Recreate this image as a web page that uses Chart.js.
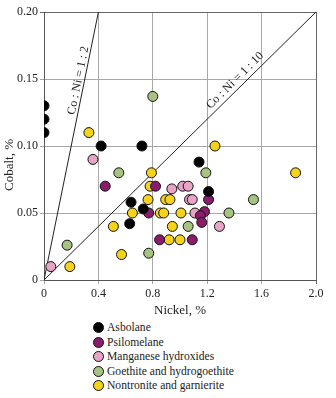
<!DOCTYPE html>
<html>
<head>
<meta charset="utf-8">
<script src="https://cdn.jsdelivr.net/npm/chart.js@4"></script>
<style>
  body { margin: 0; background: #fff; }
  #wrap { position: relative; width: 336px; height: 398px; }
  #legend { position: absolute; left: 93px; top: 0; font: 11.6px "Liberation Serif", serif; color: #222; }
  #legend div { position: absolute; left: 0; height: 14px; line-height: 14px; white-space: nowrap; }
  #legend span { display: inline-block; width: 11px; height: 11px; border-radius: 50%; border: 1px solid #111; box-sizing: border-box; vertical-align: -2px; margin-right: 3px; }
</style>
</head>
<body>
<div id="wrap">
  <canvas id="chart" width="336" height="318"></canvas>
  <div id="legend"></div>
</div>
<script>
// Nickel (x) and cobalt (y) contents, %, per mineral group
const asbolaneNi = [0, 0, 0, 0.42, 0.72, 0.64, 0.73, 0.63, 1.14, 1.21];
const asbolaneCo = [0.13, 0.12, 0.11, 0.10, 0.10, 0.058, 0.053, 0.042, 0.088, 0.066];

const psilomelaneNi = [0.45, 0.82, 0.77, 1.21, 1.18, 1.15, 1.16, 0.85, 1.09];
const psilomelaneCo = [0.070, 0.070, 0.050, 0.060, 0.051, 0.048, 0.043, 0.030, 0.030];

const mnHydroxNi = [0.05, 0.36, 0.94, 1.02, 1.06, 1.07, 1.09, 1.11, 1.29];
const mnHydroxCo = [0.010, 0.090, 0.068, 0.070, 0.070, 0.060, 0.060, 0.050, 0.040];

const goethiteNi = [0.17, 0.55, 0.80, 0.77, 1.19, 1.54, 1.36, 1.06];
const goethiteCo = [0.026, 0.080, 0.137, 0.020, 0.080, 0.060, 0.050, 0.040];

const nontroniteNi = [0.19, 0.33, 0.51, 0.57, 0.65, 0.765, 0.78, 0.79, 0.855, 0.88, 0.895, 0.926, 0.944, 0.92, 1.00, 1.007, 1.257, 1.85];
const nontroniteCo = [0.010, 0.110, 0.040, 0.019, 0.050, 0.060, 0.070, 0.080, 0.050, 0.050, 0.060, 0.060, 0.040, 0.030, 0.030, 0.050, 0.100, 0.080];

const seriesNames = ['Asbolane', 'Psilomelane', 'Manganese hydroxides', 'Goethite and hydrogoethite', 'Nontronite and garnierite'];
const seriesColors = ['#000000', '#8a1c6c', '#e7a4c6', '#a6c382', '#f6d31a'];

// Co : Ni ratio lines (end points)
const ratioLabels = ['Co : Ni = 1 : 2', 'Co : Ni = 1 : 10'];
const ratioEndNi = [0.4, 2.0];
const ratioEndCo = [0.2, 0.2];

const xTicks = [0, 0.4, 0.8, 1.2, 1.6, 2.0];
const yTicks = [0, 0.05, 0.10, 0.15, 0.20];

const serif = '"Liberation Serif", serif';

function pts(xs, ys) {
    return xs.map((x, i) => ({ x: x, y: ys[i] }));
}

const pointSets = [
    pts(asbolaneNi, asbolaneCo),
    pts(psilomelaneNi, psilomelaneCo),
    pts(mnHydroxNi, mnHydroxCo),
    pts(goethiteNi, goethiteCo),
    pts(nontroniteNi, nontroniteCo)
];

const datasets = pointSets.map((data, i) => ({
    type: 'scatter',
    label: seriesNames[i],
    data: data,
    backgroundColor: seriesColors[i],
    borderColor: '#111',
    borderWidth: 1,
    pointRadius: 5,
    order: 1
}));

ratioEndNi.forEach((x, i) => {
    datasets.push({
        type: 'line',
        label: ratioLabels[i],
        data: [{ x: 0, y: 0 }, { x: x, y: ratioEndCo[i] }],
        borderColor: '#222',
        borderWidth: 1,
        pointRadius: 0,
        fill: false,
        order: 10
    });
});

// label positions along each ratio line: fraction along, perpendicular offset
const labelPos = [[0.74, 6], [0.723, 8]];

const extras = {
    id: 'extras',
    afterDatasetsDraw(chart) {
        const ctx = chart.ctx;
        const xs = chart.scales.x, ys = chart.scales.y;
        ctx.save();
        ctx.fillStyle = '#222';
        ctx.font = '12px ' + serif;
        ctx.textAlign = 'center';
        ctx.textBaseline = 'middle';
        ratioEndNi.forEach((x, i) => {
            const x0 = xs.getPixelForValue(0), y0 = ys.getPixelForValue(0);
            const x1 = xs.getPixelForValue(x), y1 = ys.getPixelForValue(ratioEndCo[i]);
            const a = Math.atan2(y1 - y0, x1 - x0);
            const t = labelPos[i][0];
            ctx.save();
            ctx.translate(x0 + (x1 - x0) * t, y0 + (y1 - y0) * t);
            ctx.rotate(a);
            ctx.fillText(ratioLabels[i], 0, -labelPos[i][1]);
            ctx.restore();
        });
        // y axis title
        ctx.save();
        ctx.font = '13px ' + serif;
        ctx.translate(10, 165);
        ctx.rotate(-Math.PI / 2);
        ctx.fillText('Cobalt, %', 0, 0);
        ctx.restore();
        ctx.restore();
    }
};

new Chart(document.getElementById('chart'), {
    data: { datasets: datasets },
    options: {
        responsive: false,
        animation: false,
        layout: { padding: { left: 0, right: 20, top: 12, bottom: 0 } },
        plugins: { legend: { display: false }, tooltip: { enabled: false } },
        scales: {
            x: {
                type: 'linear',
                min: 0,
                max: 2,
                afterBuildTicks: (scale) => { scale.ticks = xTicks.map(v => ({ value: v })); },
                afterFit: (scale) => { scale.height = 38; },
                ticks: {
                    color: '#222',
                    padding: 3,
                    font: { family: serif, size: 12 },
                    callback: (v) => v === 0 ? '0' : v.toFixed(1)
                },
                grid: {
                    color: (c) => c.tick && c.tick.value === 2 ? '#666' : '#a8a8a8',
                    tickLength: 4
                },
                border: { color: '#555' },
                title: {
                    display: true,
                    text: 'Nickel, %',
                    color: '#222',
                    font: { family: serif, size: 13 },
                    padding: { top: 2, bottom: 0 }
                }
            },
            y: {
                type: 'linear',
                min: 0,
                max: 0.2,
                afterBuildTicks: (scale) => { scale.ticks = yTicks.map(v => ({ value: v })); },
                afterFit: (scale) => { scale.width = 44; },
                ticks: {
                    color: '#222',
                    padding: 2,
                    font: { family: serif, size: 12 },
                    callback: (v) => v === 0 ? '0' : v.toFixed(2)
                },
                grid: {
                    color: (c) => c.tick && c.tick.value === 0.2 ? '#666' : '#a8a8a8',
                    tickLength: 4
                },
                border: { color: '#555' }
            }
        }
    },
    plugins: [extras]
});

// legend below the chart, one row per group
const legend = document.getElementById('legend');
seriesNames.forEach((name, i) => {
    const row = document.createElement('div');
    row.style.top = (321 + i * 14.6) + 'px';
    row.innerHTML = '<span style="background:' + seriesColors[i] + '"></span>' + name;
    legend.appendChild(row);
});
</script>
</body>
</html>
